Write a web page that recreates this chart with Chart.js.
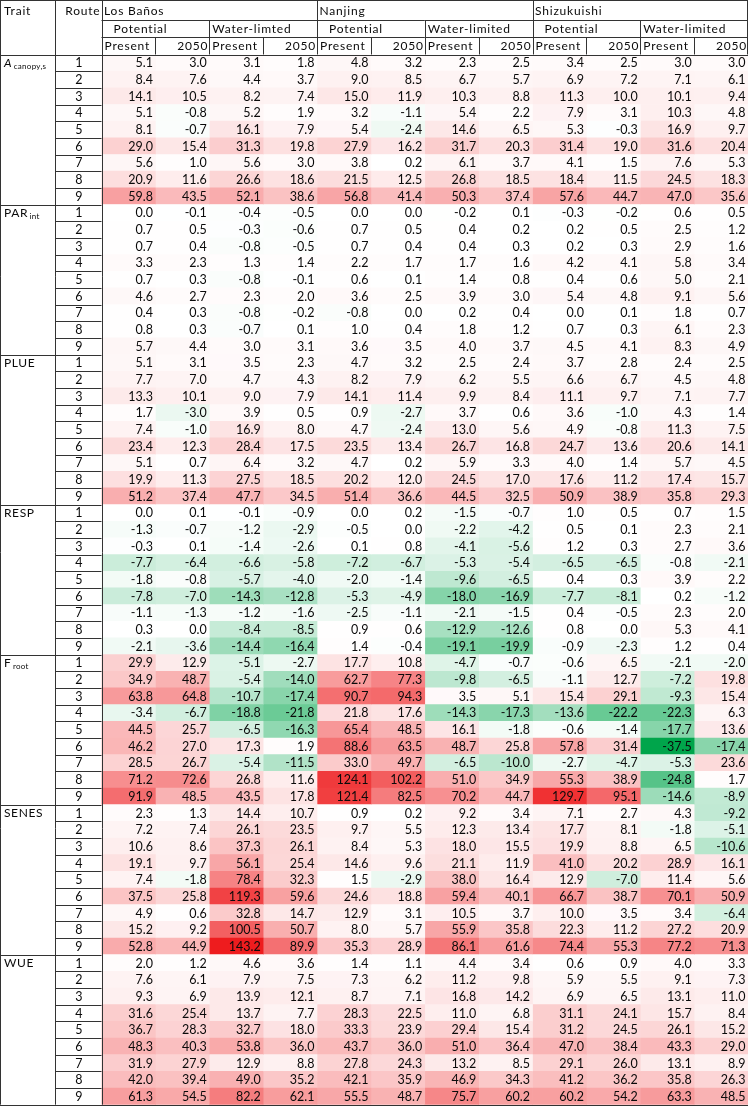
<!DOCTYPE html>
<html><head><meta charset="utf-8">
<script src="https://cdn.jsdelivr.net/npm/chart.js@4.4.1/dist/chart.umd.min.js"></script>
<style>html,body{margin:0;padding:0;background:#fff}canvas{display:block}</style>
</head><body>
<canvas id="c" width="751" height="1108"></canvas>
<script>
// ---------- DATA ----------
const CITIES = ['Los Baños', 'Nanjing', 'Shizukuishi'];
const REGIMES = [['Potential', 'Water-limted'], ['Potential', 'Water-limited'], ['Potential', 'Water-limited']];
const PERIODS = ['Present', '2050'];
const ROUTES = ['1', '2', '3', '4', '5', '6', '7', '8', '9'];
const TRAIT_NAMES = ['A canopy,s', 'PAR int', 'PLUE', 'RESP', 'F root', 'SENES', 'WUE'];

const A_canopy = [
  [5.1, 3.0, 3.1, 1.8, 4.8, 3.2, 2.3, 2.5, 3.4, 2.5, 3.0, 3.0],
  [8.4, 7.6, 4.4, 3.7, 9.0, 8.5, 6.7, 5.7, 6.9, 7.2, 7.1, 6.1],
  [14.1, 10.5, 8.2, 7.4, 15.0, 11.9, 10.3, 8.8, 11.3, 10.0, 10.1, 9.4],
  [5.1, -0.8, 5.2, 1.9, 3.2, -1.1, 5.4, 2.2, 7.9, 3.1, 10.3, 4.8],
  [8.1, -0.7, 16.1, 7.9, 5.4, -2.4, 14.6, 6.5, 5.3, -0.3, 16.9, 9.7],
  [29.0, 15.4, 31.3, 19.8, 27.9, 16.2, 31.7, 20.3, 31.4, 19.0, 31.6, 20.4],
  [5.6, 1.0, 5.6, 3.0, 3.8, 0.2, 6.1, 3.7, 4.1, 1.5, 7.6, 5.3],
  [20.9, 11.6, 26.6, 18.6, 21.5, 12.5, 26.8, 18.5, 18.4, 11.5, 24.5, 18.3],
  [59.8, 43.5, 52.1, 38.6, 56.8, 41.4, 50.3, 37.4, 57.6, 44.7, 47.0, 35.6]
];
const PAR_int = [
  [0.0, -0.1, -0.4, -0.5, 0.0, 0.0, -0.2, 0.1, -0.3, -0.2, 0.6, 0.5],
  [0.7, 0.5, -0.3, -0.6, 0.7, 0.5, 0.4, 0.2, 0.2, 0.5, 2.5, 1.2],
  [0.7, 0.4, -0.8, -0.5, 0.7, 0.4, 0.4, 0.3, 0.2, 0.3, 2.9, 1.6],
  [3.3, 2.3, 1.3, 1.4, 2.2, 1.7, 1.7, 1.6, 4.2, 4.1, 5.8, 3.4],
  [0.7, 0.3, -0.8, -0.1, 0.6, 0.1, 1.4, 0.8, 0.4, 0.6, 5.0, 2.1],
  [4.6, 2.7, 2.3, 2.0, 3.6, 2.5, 3.9, 3.0, 5.4, 4.8, 9.1, 5.6],
  [0.4, 0.3, -0.8, -0.2, -0.8, 0.0, 0.2, 0.4, 0.0, 0.1, 1.8, 0.7],
  [0.8, 0.3, -0.7, 0.1, 1.0, 0.4, 1.8, 1.2, 0.7, 0.3, 6.1, 2.3],
  [5.7, 4.4, 3.0, 3.1, 3.6, 3.5, 4.0, 3.7, 4.5, 4.1, 8.3, 4.9]
];
const PLUE = [
  [5.1, 3.1, 3.5, 2.3, 4.7, 3.2, 2.5, 2.4, 3.7, 2.8, 2.4, 2.5],
  [7.7, 7.0, 4.7, 4.3, 8.2, 7.9, 6.2, 5.5, 6.6, 6.7, 4.5, 4.8],
  [13.3, 10.1, 9.0, 7.9, 14.1, 11.4, 9.9, 8.4, 11.1, 9.7, 7.1, 7.7],
  [1.7, -3.0, 3.9, 0.5, 0.9, -2.7, 3.7, 0.6, 3.6, -1.0, 4.3, 1.4],
  [7.4, -1.0, 16.9, 8.0, 4.7, -2.4, 13.0, 5.6, 4.9, -0.8, 11.3, 7.5],
  [23.4, 12.3, 28.4, 17.5, 23.5, 13.4, 26.7, 16.8, 24.7, 13.6, 20.6, 14.1],
  [5.1, 0.7, 6.4, 3.2, 4.7, 0.2, 5.9, 3.3, 4.0, 1.4, 5.7, 4.5],
  [19.9, 11.3, 27.5, 18.5, 20.2, 12.0, 24.5, 17.0, 17.6, 11.2, 17.4, 15.7],
  [51.2, 37.4, 47.7, 34.5, 51.4, 36.6, 44.5, 32.5, 50.9, 38.9, 35.8, 29.3]
];
const RESP = [
  [0.0, 0.1, -0.1, -0.9, 0.0, 0.2, -1.5, -0.7, 1.0, 0.5, 0.7, 1.5],
  [-1.3, -0.7, -1.2, -2.9, -0.5, 0.0, -2.2, -4.2, 0.5, 0.1, 2.3, 2.1],
  [-0.3, 0.1, -1.4, -2.6, 0.1, 0.8, -4.1, -5.6, 1.2, 0.3, 2.7, 3.6],
  [-7.7, -6.4, -6.6, -5.8, -7.2, -6.7, -5.3, -5.4, -6.5, -6.5, -0.8, -2.1],
  [-1.8, -0.8, -5.7, -4.0, -2.0, -1.4, -9.6, -6.5, 0.4, 0.3, 3.9, 2.2],
  [-7.8, -7.0, -14.3, -12.8, -5.3, -4.9, -18.0, -16.9, -7.7, -8.1, 0.2, -1.2],
  [-1.1, -1.3, -1.2, -1.6, -2.5, -1.1, -2.1, -1.5, 0.4, -0.5, 2.3, 2.0],
  [0.3, 0.0, -8.4, -8.5, 0.9, 0.6, -12.9, -12.6, 0.8, 0.0, 5.3, 4.1],
  [-2.1, -3.6, -14.4, -16.4, 1.4, -0.4, -19.1, -19.9, -0.9, -2.3, 1.2, 0.4]
];
const F_root = [
  [29.9, 12.9, -5.1, -2.7, 17.7, 10.8, -4.7, -0.7, -0.6, 6.5, -2.1, -2.0],
  [34.9, 48.7, -5.4, -14.0, 62.7, 77.3, -9.8, -6.5, -1.1, 12.7, -7.2, 19.8],
  [63.8, 64.8, -10.7, -17.4, 90.7, 94.3, 3.5, 5.1, 15.4, 29.1, -9.3, 15.4],
  [-3.4, -6.7, -18.8, -21.8, 21.8, 17.6, -14.3, -17.3, -13.6, -22.2, -22.3, 6.3],
  [44.5, 25.7, -6.5, -16.3, 65.4, 48.5, 16.1, -1.8, -0.6, -1.4, -17.7, 13.6],
  [46.2, 27.0, 17.3, 1.9, 88.6, 63.5, 48.7, 25.8, 57.8, 31.4, -37.5, -17.4],
  [28.5, 26.7, -5.4, -11.5, 33.0, 49.7, -6.5, -10.0, -2.7, -4.7, -5.3, 23.6],
  [71.2, 72.6, 26.8, 11.6, 124.1, 102.2, 51.0, 34.9, 55.3, 38.9, -24.8, 1.7],
  [91.9, 48.5, 43.5, 17.8, 121.4, 82.5, 70.2, 44.7, 129.7, 95.1, -14.6, -8.9]
];
const SENES = [
  [2.3, 1.3, 14.4, 10.7, 0.9, 0.2, 9.2, 3.4, 7.1, 2.7, 4.3, -9.2],
  [7.2, 7.4, 26.1, 23.5, 9.7, 5.5, 12.3, 13.4, 17.7, 8.1, -1.8, -5.1],
  [10.6, 8.6, 37.3, 26.1, 8.4, 5.3, 18.0, 15.5, 19.9, 8.8, 6.5, -10.6],
  [19.1, 9.7, 56.1, 25.4, 14.6, 9.6, 21.1, 11.9, 41.0, 20.2, 28.9, 16.1],
  [7.4, -1.8, 78.4, 32.3, 1.5, -2.9, 38.0, 16.4, 12.9, -7.0, 11.4, 5.6],
  [37.5, 25.8, 119.3, 59.6, 24.6, 18.8, 59.4, 40.1, 66.7, 38.7, 70.1, 50.9],
  [4.9, 0.6, 32.8, 14.7, 12.9, 3.1, 10.5, 3.7, 10.0, 3.5, 3.4, -6.4],
  [15.2, 9.2, 100.5, 50.7, 8.0, 5.7, 55.9, 35.8, 22.3, 11.2, 27.2, 20.9],
  [52.8, 44.9, 143.2, 89.9, 35.3, 28.9, 86.1, 61.6, 74.4, 55.3, 77.2, 71.3]
];
const WUE = [
  [2.0, 1.2, 4.6, 3.6, 1.4, 1.1, 4.4, 3.4, 0.6, 0.9, 4.0, 3.3],
  [7.6, 6.1, 7.9, 7.5, 7.3, 6.2, 11.2, 9.8, 5.9, 5.5, 9.1, 7.3],
  [9.3, 6.9, 13.9, 12.1, 8.7, 7.1, 16.8, 14.2, 6.9, 6.5, 13.1, 11.0],
  [31.6, 25.4, 13.7, 7.7, 28.3, 22.5, 11.0, 6.8, 31.1, 24.1, 15.7, 8.4],
  [36.7, 28.3, 32.7, 18.0, 33.3, 23.9, 29.4, 15.4, 31.2, 24.5, 26.1, 15.2],
  [48.3, 40.3, 53.8, 36.0, 43.7, 36.0, 51.0, 36.4, 47.0, 38.4, 43.3, 29.0],
  [31.9, 27.9, 12.9, 8.8, 27.8, 24.3, 13.2, 8.5, 29.1, 26.0, 13.1, 8.9],
  [42.0, 39.4, 49.0, 35.2, 42.1, 35.9, 46.9, 34.3, 41.2, 36.2, 35.8, 26.3],
  [61.3, 54.5, 82.2, 62.1, 55.5, 48.7, 75.7, 60.2, 60.2, 54.2, 63.3, 48.5]
];
const TRAIT_TABLES = [A_canopy, PAR_int, PLUE, RESP, F_root, SENES, WUE];

// ---------- STYLE ----------
const TEXT = '#0a0a0a';
const LINE = '#333333';
const NUM_FONT = '12.5px Lato';
const HEAD_FONT = '12px Lato';
const GREEN = [0, 165, 75], WHITE = [255, 255, 255], RED = [238, 28, 30];

// ---------- BUILD ----------
const rowLabels = [];
const rowValues = [];
TRAIT_TABLES.forEach((tbl, t) => tbl.forEach((row, r) => {
  rowLabels.push(TRAIT_NAMES[t] + ' ' + ROUTES[r]);
  rowValues.push(row);
}));
const allVals = rowValues.flat();
const vMin = Math.min(...allVals), vMax = Math.max(...allVals);

function mix(a, b, t) { return a.map((c, i) => Math.round(c + (b[i] - c) * t)); }
function colorFor(v) {
  let c;
  if (v >= 0) c = mix(WHITE, RED, v / vMax);
  else c = mix(WHITE, GREEN, v / vMin);
  return 'rgb(' + c.join(',') + ')';
}

const nCols = 12;
const colNames = [];
CITIES.forEach((city, ci) => REGIMES[ci].forEach(reg => PERIODS.forEach(p => colNames.push(city + ' ' + reg + ' ' + p))));

const datasets = colNames.map((name, j) => ({
  label: name,
  data: rowValues.map(() => [j, j + 1]),
  values: rowValues.map(r => r[j]),
  backgroundColor: rowValues.map(r => colorFor(r[j])),
  borderWidth: 0,
  barPercentage: 1,
  categoryPercentage: 1,
  grouped: false
}));

function crisp(v) { return Math.round(v) + 0.5; }

const tablePlugin = {
  id: 'tablePlugin',
  afterDatasetsDraw(chart) {
    const ctx = chart.ctx;
    ctx.save();
    ctx.font = NUM_FONT;
    ctx.fillStyle = TEXT;
    ctx.textAlign = 'right';
    ctx.textBaseline = 'middle';
    chart.data.datasets.forEach((ds, j) => {
      const meta = chart.getDatasetMeta(j);
      meta.data.forEach((el, i) => {
        ctx.fillText(ds.values[i].toFixed(1), el.x - 2.5, el.y + 0.5);
      });
    });
    ctx.restore();
  },
  afterDraw(chart) {
    const ctx = chart.ctx;
    const xs = chart.scales.x, ys = chart.scales.y;
    const area = chart.chartArea;
    const E = [];
    for (let k = 0; k <= nCols; k++) E.push(xs.getPixelForValue(k));
    const nRows = rowLabels.length;
    const step = (area.bottom - area.top) / nRows;
    const rowTop = i => ys.getPixelForValue(i) - step / 2;
    const xTrait = 0, xRoute = 55, xData = E[0], xRight = E[nCols];
    const h0 = 0, h1 = 20, h2 = 37, h3 = area.top, bottom = area.bottom;

    ctx.save();
    ctx.strokeStyle = LINE;
    ctx.lineWidth = 1;
    const hl = (x1, x2, y) => { ctx.beginPath(); ctx.moveTo(x1, crisp(y)); ctx.lineTo(x2, crisp(y)); ctx.stroke(); };
    const vl = (x, y1, y2) => { ctx.beginPath(); ctx.moveTo(crisp(x), y1); ctx.lineTo(crisp(x), y2); ctx.stroke(); };
    hl(xTrait, xRight, h0);
    hl(xData, xRight, h1);
    hl(xData, xRight, h2);
    hl(xTrait, xRight, h3);
    hl(xTrait, xRight, bottom);
    vl(xTrait, h0, bottom);
    vl(xRoute, h0, bottom);
    vl(xData, h0, bottom);
    vl(xRight - 1, h0, h3);
    vl(E[4], h0, h3); vl(E[8], h0, h3);
    [2, 6, 10].forEach(k => vl(E[k], h1, h3));
    [1, 3, 5, 7, 9, 11].forEach(k => vl(E[k], h2, h3));
    for (let i = 1; i < nRows; i++) {
      const y = rowTop(i);
      if (i % 9 === 0) hl(xTrait, xData, y); else hl(xRoute, xData, y);
    }

    ctx.fillStyle = TEXT;
    ctx.font = HEAD_FONT;
    ctx.textBaseline = 'middle';
    ctx.letterSpacing = '0.8px';
    const r1 = (h0 + h1) / 2 + 1, r2 = (h1 + h2) / 2 + 1, r3 = (h2 + h3) / 2 + 0.5;
    ctx.textAlign = 'left';
    ctx.fillText('Trait', 4, r1);
    ctx.textAlign = 'right';
    ctx.fillText('Route', xData - 1, r1);
    CITIES.forEach((c, ci) => {
      ctx.textAlign = 'left';
      ctx.fillText(c, E[ci * 4] + 2.5, r1);
      REGIMES[ci].forEach((rg, ri) => {
        const k = ci * 4 + ri * 2;
        ctx.textAlign = 'left';
        ctx.fillText(rg, E[k] + (ri === 0 ? 12 : 3), r2);
        ctx.fillText(PERIODS[0], E[k] + 3, r3);
        ctx.textAlign = 'right';
        ctx.fillText(PERIODS[1], E[k + 2] - 1, r3);
      });
    });

    ctx.letterSpacing = '0px';
    ctx.font = NUM_FONT;
    ctx.textAlign = 'center';
    for (let i = 0; i < nRows; i++) {
      ctx.fillText(ROUTES[i % 9], (xRoute + xData) / 2 + 0.5, ys.getPixelForValue(i) + 0.5);
    }

    ctx.textAlign = 'left';
    TRAIT_NAMES.forEach((name, t) => {
      const y = ys.getPixelForValue(t * 9) + 0.5;
      const parts = name.split(' ');
      const main = parts[0], sub = parts[1];
      ctx.letterSpacing = '0.6px';
      ctx.font = (t === 0 ? 'italic ' : '') + HEAD_FONT;
      ctx.fillText(main, 4, y);
      if (sub) {
        const w = ctx.measureText(main).width;
        ctx.letterSpacing = '0.3px';
        ctx.font = '8px Lato';
        ctx.fillText(sub, 4 + w + 1.5, y + 3);
      }
    });
    ctx.restore();
  }
};

new Chart(document.getElementById('c'), {
  type: 'bar',
  data: { labels: rowLabels, datasets },
  options: {
    indexAxis: 'y',
    responsive: false,
    animation: false,
    devicePixelRatio: 1,
    layout: { padding: { left: 101.5, right: 3, top: 54.5, bottom: 3.3 } },
    scales: {
      x: { type: 'linear', min: 0, max: nCols, display: false },
      y: { type: 'category', display: false, offset: true }
    },
    plugins: { legend: { display: false }, tooltip: { enabled: false } }
  },
  plugins: [tablePlugin]
});
</script>
</body></html>
